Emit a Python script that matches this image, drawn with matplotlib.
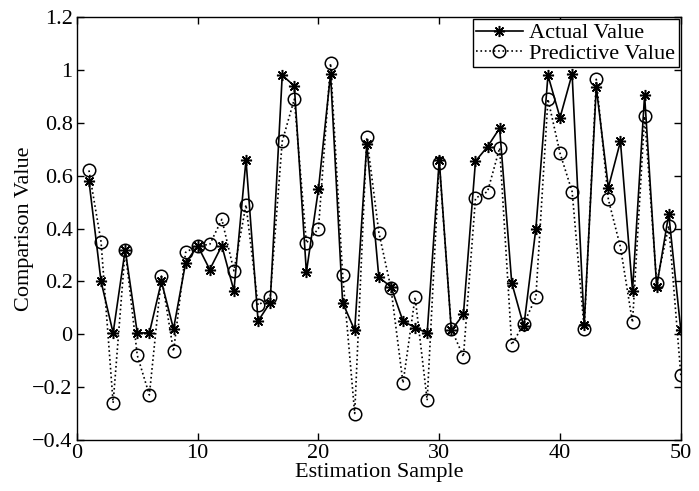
import matplotlib
matplotlib.use("Agg")
import matplotlib.pyplot as plt
import numpy as np

samples = list(range(1, 51))
actual = [0.58, 0.20, 0.005, 0.32, 0.005, 0.005, 0.20, 0.02, 0.27, 0.335,
          0.245, 0.335, 0.165, 0.66, 0.05, 0.12, 0.98, 0.94, 0.235, 0.55,
          0.985, 0.12, 0.015, 0.72, 0.215, 0.18, 0.05, 0.025, 0.005, 0.66,
          0.015, 0.075, 0.655, 0.71, 0.78, 0.195, 0.03, 0.40, 0.98, 0.82,
          0.985, 0.035, 0.935, 0.555, 0.73, 0.165, 0.905, 0.18, 0.455, 0.015]
predicted = [0.62, 0.35, -0.26, 0.32, -0.08, -0.23, 0.22, -0.065, 0.31, 0.335,
             0.34, 0.435, 0.24, 0.49, 0.11, 0.14, 0.73, 0.89, 0.345, 0.40,
             1.025, 0.225, -0.30, 0.745, 0.385, 0.175, -0.185, 0.14, -0.25, 0.65,
             0.02, -0.085, 0.515, 0.54, 0.705, -0.04, 0.04, 0.14, 0.89, 0.685,
             0.54, 0.02, 0.965, 0.51, 0.33, 0.045, 0.825, 0.195, 0.41, -0.155]
xticks = [0, 10, 20, 30, 40, 50]
yticks = [-0.4, -0.2, 0, 0.2, 0.4, 0.6, 0.8, 1, 1.2]
ytick_labels = ["\u22120.4", "\u22120.2", "0", "0.2", "0.4", "0.6", "0.8", "1", "1.2"]

plt.rcParams['font.family'] = ['Liberation Serif', 'DejaVu Serif']

fig = plt.figure(figsize=(6.99, 4.91), dpi=100)
ax = fig.add_axes([0.110, 0.104, 0.864, 0.861])

ax.plot(samples, actual, color='black', linestyle='-', linewidth=1.2,
        marker=(8, 2, 0), markersize=8, markeredgewidth=1.1, label='Actual Value')
ax.plot(samples, predicted, color='black', linestyle=':', linewidth=1.2,
        marker='o', markersize=9, markerfacecolor='none', markeredgewidth=1.1,
        label='Predictive Value')

ax.set_xlim(0, 50)
ax.set_ylim(-0.4, 1.2)
ax.set_xticks(xticks)
ax.set_yticks(yticks)
ax.set_yticklabels(ytick_labels)
ax.tick_params(direction='in', top=True, right=True, labelsize=16, length=5, width=1, pad=3)
for s in ax.spines.values():
    s.set_linewidth(1.0)
ax.set_xlabel('Estimation Sample', fontsize=16, labelpad=0)
ax.set_ylabel('Comparison Value', fontsize=16, labelpad=-1)

leg = ax.legend(loc='upper right', fontsize=16, frameon=True, fancybox=False,
                borderaxespad=0.1, handlelength=2.1, borderpad=0.15,
                labelspacing=0.0, handletextpad=0.3, framealpha=1)
leg.get_frame().set_edgecolor('black')
leg.get_frame().set_linewidth(1.0)

fig.savefig('out.png', dpi=100)
